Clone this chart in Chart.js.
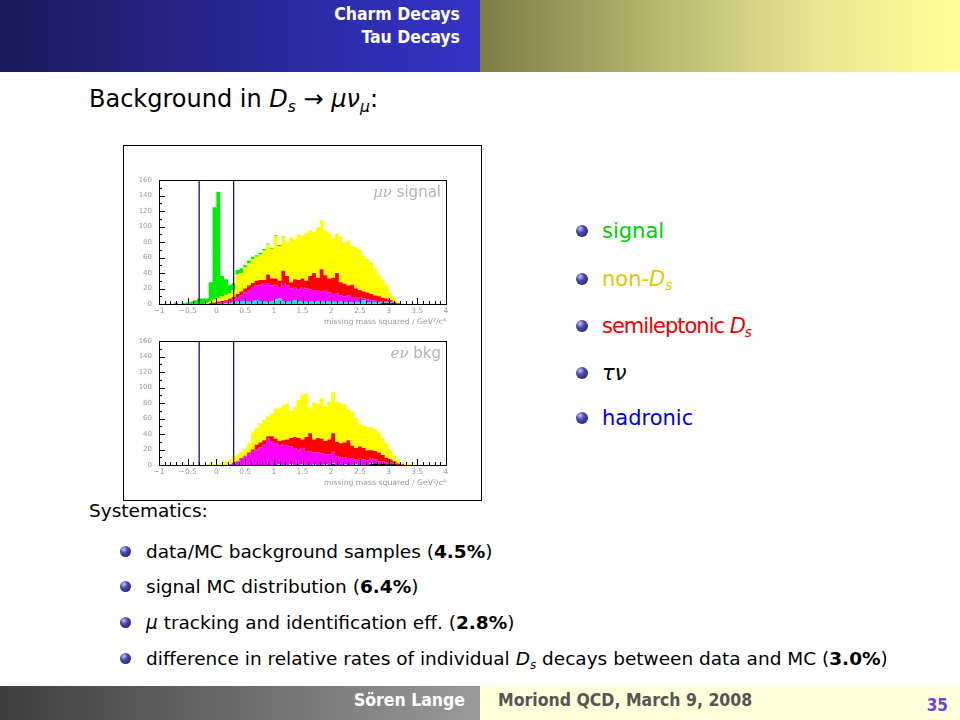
<!DOCTYPE html>
<html>
<head>
<meta charset="utf-8">
<script src="https://cdn.jsdelivr.net/npm/chart.js@4.4.1/dist/chart.umd.min.js"></script>
<style>
body { margin:0; width:960px; height:720px; overflow:hidden; background:#fff; font-family:'DejaVu Sans', sans-serif; position:relative; }
.abs { position:absolute; white-space:nowrap; }
#head-l { left:0; top:0; width:480px; height:72px; background:linear-gradient(to right,#1b1b5c,#2a2aa0 60%,#3434c8); }
#head-r { left:480px; top:0; width:480px; height:72px; background:linear-gradient(to right,#7c7c47,#b4b46c 35%,#e6e690 70%,#ffff99); }
.nav { right:500px; color:#fff; font:bold 17.5px 'DejaVu Sans Condensed','Liberation Sans Narrow',sans-serif; }
#foot-l { left:0; top:686px; width:480px; height:34px; background:linear-gradient(to right,#3e3e3e,#9a9a9a); }
#foot-r { left:480px; top:686px; width:480px; height:34px; background:#ffffdc; }
.foot { font:bold 17.5px 'DejaVu Sans Condensed','Liberation Sans Narrow',sans-serif; line-height:28px; top:686px; }
#title { left:89px; top:85px; font-size:24px; color:#000; }
sub { font-size:65%; vertical-align:-0.3em; }
.ball { position:absolute; border-radius:50%; background:radial-gradient(circle at 35% 30%, #c8c8ee 0%, #4a4ab0 35%, #1a1a5e 100%); }
.rl { font-size:21px; line-height:26px; }
.bl { font-size:18.5px; line-height:22px; color:#000; }
#box { left:123px; top:145px; width:357px; height:354px; border:1px solid #000; }
#box canvas { position:absolute; left:0; }
</style>
</head>
<body>
<div class="abs" id="head-l"></div>
<div class="abs" id="head-r"></div>
<div class="abs nav" style="top:4px;">Charm Decays</div>
<div class="abs nav" style="top:27px;">Tau Decays</div>

<div class="abs" id="title">Background in <i>D<sub>s</sub></i> → <i>μν<sub>μ</sub></i>:</div>

<div class="abs" id="box">
  <canvas id="upper" width="357" height="180" style="top:0"></canvas>
  <canvas id="lower" width="357" height="174" style="top:180px"></canvas>
</div>

<div class="ball" style="left:576px;top:225px;width:12px;height:12px"></div>
<div class="abs rl" style="left:602px;top:218px;color:#00d000">signal</div>
<div class="ball" style="left:576px;top:273px;width:12px;height:12px"></div>
<div class="abs rl" style="left:602px;top:266px;color:#e8c400">non-<i>D<sub>s</sub></i></div>
<div class="ball" style="left:576px;top:320px;width:12px;height:12px"></div>
<div class="abs rl" style="left:602px;top:313px;color:#f00000;letter-spacing:-1px">semileptonic <i>D<sub>s</sub></i></div>
<div class="ball" style="left:576px;top:367px;width:12px;height:12px"></div>
<div class="abs rl" style="left:602px;top:360px;color:#000"><i>τν</i></div>
<div class="ball" style="left:576px;top:412px;width:12px;height:12px"></div>
<div class="abs rl" style="left:602px;top:405px;color:#0000e0">hadronic</div>

<div class="abs bl" style="left:89px;top:500px;">Systematics:</div>
<div class="ball" style="left:120px;top:546px;width:11px;height:11px"></div>
<div class="abs bl" style="left:146px;top:541px;">data/MC background samples (<b>4.5%</b>)</div>
<div class="ball" style="left:120px;top:581px;width:11px;height:11px"></div>
<div class="abs bl" style="left:146px;top:576px;">signal MC distribution (<b>6.4%</b>)</div>
<div class="ball" style="left:120px;top:617px;width:11px;height:11px"></div>
<div class="abs bl" style="left:146px;top:612px;"><i>μ</i> tracking and identification eff. (<b>2.8%</b>)</div>
<div class="ball" style="left:120px;top:653px;width:11px;height:11px"></div>
<div class="abs bl" style="left:146px;top:648px;">difference in relative rates of individual <i>D<sub>s</sub></i> decays between data and MC (<b>3.0%</b>)</div>

<div class="abs" id="foot-l"></div>
<div class="abs" id="foot-r"></div>
<div class="abs foot" style="right:495px;color:#fff;">Sören Lange</div>
<div class="abs foot" style="left:498px;color:#555;">Moriond QCD, March 9, 2008</div>
<div class="abs foot" style="right:12px;color:#7040e0;font-size:17px;top:691px;">35</div>

<script>
// Histogram binning: 75 bins from -1 to 4 GeV^2/c^4
const xMin = -1, xMax = 4, nBins = 75;
const binWidth = (xMax - xMin) / nBins;
const xTicks = [-1, -0.5, 0, 0.5, 1, 1.5, 2, 2.5, 3, 3.5, 4];
const yTicks = [0, 20, 40, 60, 80, 100, 120, 140, 160];
const cutLines = [-0.3, 0.3];

// mu-nu signal sample (rows of 15 bins = one unit of x)
const muBlack = [
  0,0,0,0,0,0,0,0,0,0,0,0,0,0,0,
  0,0,0,0,0,0,0,0,0,0,0,0,0,0,0,
  0,0,0,0,0,0,0,0,0,0,0,0,0,0,0,
  0,0,0,0,0,0,0,0,0,0,0,0,0,1,1,
  1,1,0,0,0,0,0,0,0,0,0,0,0,0,0];
const muCyan = [
  0,0,0,0,0,0,0,0,0,0,0,0,0,0,0,
  0,0,1,1,2,3,3,4,3,4,5,3,4,3,4,
  6,7,4,3,4,5,3,4,3,4,3,4,3,4,3,
  3,2,3,2,3,2,3,2,5,2,3,2,2,1,1,
  1,0,0,0,0,0,0,0,0,0,0,0,0,0,0];
const muMagenta = [
  0,0,0,0,0,0,0,0,0,0,0,0,0,0,0,
  1,2,2,3,4,5,8,11,15,17,19,22,22,24,20,
  19,15,23,21,16,16,16,18,17,15,15,13,13,13,12,
  10,12,8,8,8,7,5,6,2,4,2,3,2,2,1,
  1,1,0,0,0,0,0,0,0,0,0,0,0,0,0];
const muRed = [
  0,0,0,0,0,0,0,0,0,0,0,0,0,1,2,
  2,2,2,3,3,5,5,5,6,6,6,6,5,11,9,
  8,8,16,12,8,11,12,11,10,17,22,17,29,20,18,
  21,26,17,16,13,16,12,10,9,9,8,6,6,4,4,
  2,1,1,0,0,0,0,0,0,0,0,0,0,0,0];
const muYellow = [
  0,0,0,0,0,0,0,0,0,0,0,0,1,2,4,
  5,6,7,7,9,25,24,27,29,31,31,33,38,39,38,
  55,45,43,44,58,52,59,55,62,59,53,65,63,58,59,
  51,51,59,53,58,50,54,52,46,43,41,35,28,23,18,
  10,5,2,1,0,0,0,0,0,0,0,0,0,0,0];
const muGreen = [
  0,0,0,0,2,0,1,2,3,5,7,7,6,25,119,
  137,26,20,11,9,6,6,3,3,3,2,2,2,1,1,
  1,1,1,0,0,0,0,0,0,0,0,0,0,0,0,
  0,0,0,0,0,0,0,0,0,0,0,0,0,0,0,
  0,0,0,0,0,0,0,0,0,0,0,0,0,0,0];

// e-nu background sample
const eBlack = [
  0,0,0,0,0,0,0,0,0,0,0,0,0,0,0,
  0,0,0,0,0,0,0,0,0,0,0,0,0,0,0,
  0,0,0,0,0,0,0,0,0,0,0,0,0,0,0,
  1,0,0,0,0,0,0,0,0,0,1,2,1,2,1,
  1,1,0,0,0,0,0,0,0,0,0,0,0,0,0];
const eCyan = [
  0,0,0,0,0,0,0,0,0,0,0,0,0,0,0,
  0,0,0,0,0,0,0,0,0,0,0,0,0,0,0,
  0,1,0,0,1,0,0,1,0,0,1,0,0,1,0,
  1,0,0,1,0,0,1,0,0,0,1,0,0,0,0,
  0,0,0,0,0,0,0,0,0,0,0,0,0,0,0];
const eMagenta = [
  0,0,0,0,0,0,0,0,0,0,0,0,0,0,0,
  0,0,0,1,3,5,8,11,14,17,20,23,26,34,30,
  28,24,27,25,23,22,19,21,18,17,15,16,15,13,14,
  15,11,10,9,9,8,6,8,7,6,6,5,4,3,2,
  2,1,0,0,0,0,0,0,0,0,0,0,0,0,0];
const eRed = [
  0,0,0,0,0,0,0,0,0,0,0,0,0,0,0,
  0,0,0,0,0,0,1,1,2,3,6,6,6,3,7,
  6,6,5,8,11,14,16,11,18,24,17,19,19,17,19,
  24,19,18,19,23,17,15,16,15,13,11,11,11,8,6,
  4,3,2,1,0,0,0,0,0,0,0,0,0,0,0];
const eYellow = [
  0,0,0,0,0,0,0,0,0,0,0,0,1,2,1,
  2,3,4,6,9,9,8,9,12,22,22,25,26,26,29,
  39,42,45,46,35,39,49,58,56,32,48,44,52,45,49,
  53,52,52,49,40,43,39,29,29,30,30,28,26,22,19,
  13,7,5,3,2,1,0,0,0,0,0,0,0,0,0];

const colours = ['#000000', '#00e8f0', '#ff00ff', '#ff0000', '#ffff00', '#00ee00'];

// bin contents -> points on the left bin edges, closed at xMax
function toSteps(vals) {
  const pts = vals.map((v, i) => ({ x: xMin + i * binWidth, y: v }));
  pts.push({ x: xMax, y: vals[vals.length - 1] });
  return pts;
}

Chart.defaults.font.family = "'DejaVu Sans', sans-serif";

// ROOT-like frame: box, inward ticks, sample label and axis title
const rootFrame = {
  id: 'rootFrame',
  afterDraw(chart, args, opts) {
    const { ctx, chartArea: a } = chart;
    const sx = chart.scales.x, sy = chart.scales.y;
    ctx.save();
    ctx.strokeStyle = '#000';
    ctx.lineWidth = 1;
    ctx.strokeRect(Math.round(a.left) + 0.5, Math.round(a.top) + 0.5,
                   Math.round(a.right - a.left), Math.round(a.bottom - a.top));
    ctx.beginPath();
    for (let k = 0; k <= 50; k++) {
      const v = xMin + k * 0.1;
      const px = Math.round(sx.getPixelForValue(v)) + 0.5;
      const len = (k % 5 === 0) ? 6 : 3;
      ctx.moveTo(px, a.bottom);
      ctx.lineTo(px, a.bottom - len);
    }
    for (let v = 0; v <= 160; v += 10) {
      const py = Math.round(sy.getPixelForValue(v)) + 0.5;
      const len = (v % 20 === 0) ? 6 : 3;
      ctx.moveTo(a.left, py);
      ctx.lineTo(a.left + len, py);
    }
    ctx.stroke();

    ctx.fillStyle = '#b4b4b4';
    ctx.textBaseline = 'alphabetic';
    ctx.textAlign = 'right';
    ctx.font = "15px 'DejaVu Sans', sans-serif";
    const wRest = ctx.measureText(opts.rest).width;
    ctx.fillText(opts.rest, a.right - 5, a.top + 17);
    ctx.font = "italic 15px 'DejaVu Serif', serif";
    ctx.fillText(opts.greek, a.right - 5 - wRest, a.top + 17);

    ctx.fillStyle = '#999';
    ctx.font = "7.7px 'DejaVu Sans', sans-serif";
    ctx.fillText('missing mass squared / GeV\u00b2/c\u2074', a.right, a.bottom + 20);
    ctx.restore();
  }
};

function makeChart(id, series, label, bottomSpace, topSpace) {
  const datasets = series.map((d, i) => ({
    type: 'line',
    data: toSteps(d),
    stepped: true,
    fill: i === 0 ? 'origin' : '-1',
    backgroundColor: colours[i],
    borderColor: colours[i],
    borderWidth: 0,
    pointRadius: 0,
    order: 1
  }));
  cutLines.forEach(c => datasets.push({
    type: 'line',
    data: [{ x: c, y: 0 }, { x: c, y: 160 }],
    yAxisID: 'y2',
    borderColor: '#10108a',
    borderWidth: 1.3,
    pointRadius: 0,
    fill: false,
    order: 0
  }));

  new Chart(document.getElementById(id), {
    data: { datasets },
    options: {
      responsive: false,
      animation: false,
      layout: { padding: { top: topSpace, right: 35, left: 0, bottom: 0 } },
      plugins: { legend: { display: false }, tooltip: { enabled: false },
                 rootFrame: label },
      scales: {
        x: {
          type: 'linear', position: 'bottom', min: xMin, max: xMax,
          afterBuildTicks: s => { s.ticks = xTicks.map(v => ({ value: v })); },
          afterFit: s => { s.height = bottomSpace; },
          grid: { display: false, drawTicks: false }, border: { display: false },
          ticks: { color: '#999', font: { size: 7.5 }, padding: 3, maxRotation: 0,
                   autoSkip: false, callback: v => String(v).replace('-', '\u2212') }
        },
        y: {
          stacked: true, min: 0, max: 160,
          afterBuildTicks: s => { s.ticks = yTicks.map(v => ({ value: v })); },
          afterFit: s => { s.width = 35; },
          grid: { display: false, drawTicks: false }, border: { display: false },
          ticks: { color: '#999', font: { size: 7 }, padding: 7 }
        },
        y2: { display: false, min: 0, max: 160 }
      }
    },
    plugins: [rootFrame]
  });
}

makeChart('upper', [muBlack, muCyan, muMagenta, muRed, muYellow, muGreen],
          { greek: 'μν', rest: ' signal' }, 22, 34);
makeChart('lower', [eBlack, eCyan, eMagenta, eRed, eYellow],
          { greek: 'eν', rest: ' bkg' }, 35, 15);
</script>
</body>
</html>
